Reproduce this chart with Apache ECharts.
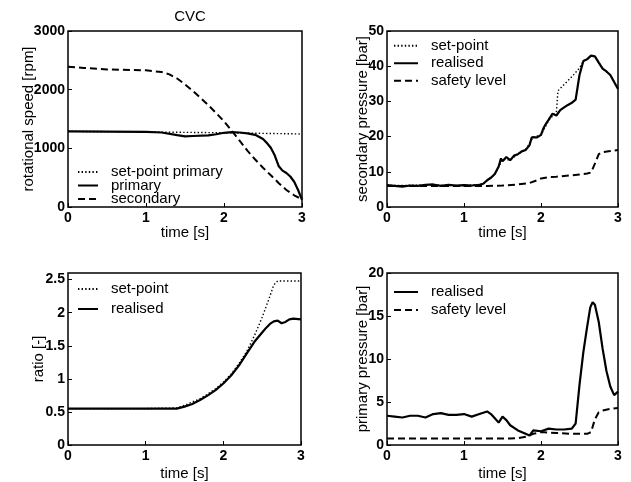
<!DOCTYPE html>
<html>
<head>
<meta charset="utf-8">
<script src="https://cdn.jsdelivr.net/npm/echarts@6/dist/echarts.min.js"></script>
<style>
html,body{margin:0;padding:0;background:#fff;}
#chart{width:631px;height:482px;}
</style>
</head>
<body>
<div id="chart"></div>
<script>
// ---- Data ----
// Panel 1: rotational speed [rpm]
var spdSetT = [0, 1, 2, 3];
var spdSetV = [1290, 1280, 1265, 1245];
var spdPrimT = [0, 0.5, 1.0, 1.2, 1.4, 1.5, 1.6, 1.8, 1.9, 2.0, 2.1, 2.2, 2.3, 2.4, 2.5, 2.55, 2.6, 2.65, 2.7, 2.75, 2.8, 2.85, 2.9, 2.95, 3.0];
var spdPrimV = [1290, 1285, 1280, 1270, 1225, 1205, 1210, 1220, 1240, 1265, 1275, 1270, 1255, 1230, 1160, 1090, 1010, 880, 700, 620, 580, 520, 430, 290, 120];
var spdSecT = [0, 0.2, 0.5, 0.8, 1.0, 1.2, 1.3, 1.4, 1.5, 1.6, 1.7, 1.8, 1.9, 2.0, 2.1, 2.2, 2.3, 2.4, 2.5, 2.6, 2.7, 2.8, 2.9, 3.0];
var spdSecV = [2390, 2370, 2345, 2335, 2330, 2300, 2260, 2190, 2090, 1980, 1860, 1735, 1600, 1460, 1300, 1130, 960, 810, 670, 540, 410, 290, 200, 130];

// Panel 2: secondary pressure [bar]
var secSetT = [0, 0.5, 1.0, 1.25, 1.3, 1.4, 1.5, 1.6, 1.7, 1.8, 1.9, 2.0, 2.1, 2.2, 2.22, 2.3, 2.4, 2.5, 2.55, 2.6, 2.65, 2.7, 2.8, 2.9, 3.0];
var secSetV = [6.1, 6.2, 6.1, 6.5, 7.5, 9.3, 13.5, 13.4, 15.0, 16.2, 19.9, 20.4, 24.6, 27.0, 33.0, 34.8, 37.0, 39.5, 41.5, 42.0, 43.0, 42.8, 39.3, 37.5, 33.5];
var secRealT = [0, 0.1, 0.2, 0.3, 0.4, 0.5, 0.6, 0.7, 0.8, 0.9, 1.0, 1.1, 1.2, 1.25, 1.3, 1.35, 1.4, 1.45, 1.48, 1.5, 1.55, 1.6, 1.65, 1.7, 1.75, 1.8, 1.85, 1.88, 1.9, 1.95, 2.0, 2.03, 2.06, 2.1, 2.15, 2.2, 2.25, 2.3, 2.35, 2.4, 2.45, 2.5, 2.55, 2.6, 2.65, 2.7, 2.75, 2.8, 2.85, 2.9, 2.95, 3.0];
var secRealV = [6.2, 6.0, 5.8, 6.1, 6.0, 6.3, 6.4, 6.0, 6.3, 6.1, 6.2, 6.1, 6.3, 6.6, 7.6, 8.3, 9.4, 11.5, 13.8, 13.0, 14.2, 13.3, 14.6, 15.0, 15.8, 16.2, 17.5, 19.8, 20.0, 19.8, 20.5, 22.3, 23.5, 24.8, 26.5, 26.0, 27.5, 28.3, 29.0, 29.6, 30.5, 37.5, 41.5, 42.0, 43.0, 42.8, 41.0, 39.3, 38.5, 37.5, 35.5, 33.5];
var secSafeT = [0, 0.5, 1.0, 1.3, 1.5, 1.7, 1.85, 1.95, 2.0, 2.1, 2.2, 2.3, 2.4, 2.5, 2.6, 2.65, 2.7, 2.75, 2.8, 2.9, 3.0];
var secSafeV = [6, 6, 6, 6, 6.1, 6.4, 6.8, 7.6, 8.1, 8.5, 8.6, 8.8, 9.0, 9.2, 9.5, 9.8, 12.3, 15.0, 15.6, 15.9, 16.2];

// Panel 3: ratio [-]
var ratSetT = [0, 0.5, 1.0, 1.4, 1.5, 1.6, 1.7, 1.8, 1.9, 2.0, 2.1, 2.2, 2.3, 2.4, 2.5, 2.6, 2.65, 2.7, 2.8, 2.9, 3.0];
var ratSetV = [0.55, 0.55, 0.55, 0.56, 0.6, 0.65, 0.70, 0.77, 0.85, 0.95, 1.07, 1.23, 1.41, 1.65, 1.93, 2.25, 2.42, 2.48, 2.48, 2.48, 2.48];
var ratRealT = [0, 0.5, 1.0, 1.4, 1.5, 1.6, 1.7, 1.8, 1.9, 2.0, 2.1, 2.2, 2.3, 2.4, 2.5, 2.55, 2.6, 2.65, 2.7, 2.75, 2.8, 2.85, 2.9, 3.0];
var ratRealV = [0.55, 0.55, 0.55, 0.55, 0.58, 0.62, 0.68, 0.75, 0.83, 0.93, 1.05, 1.2, 1.38, 1.56, 1.7, 1.77, 1.83, 1.87, 1.88, 1.84, 1.86, 1.9, 1.91, 1.9];

// Panel 4: primary pressure [bar]
var priRealT = [0, 0.1, 0.2, 0.3, 0.4, 0.5, 0.6, 0.7, 0.8, 0.9, 1.0, 1.1, 1.2, 1.3, 1.35, 1.4, 1.45, 1.5, 1.55, 1.6, 1.7, 1.8, 1.85, 1.9, 2.0, 2.1, 2.2, 2.3, 2.4, 2.45, 2.5, 2.55, 2.6, 2.64, 2.67, 2.7, 2.75, 2.8, 2.85, 2.9, 2.95, 3.0];
var priRealV = [3.4, 3.3, 3.2, 3.4, 3.4, 3.2, 3.6, 3.7, 3.5, 3.5, 3.6, 3.3, 3.6, 3.9, 3.6, 3.1, 2.6, 3.3, 2.9, 2.3, 1.7, 1.3, 1.1, 1.7, 1.6, 1.9, 1.8, 1.8, 1.9, 2.5, 7.0, 10.8, 13.8, 16.0, 16.6, 16.3, 14.3, 11.2, 8.6, 6.8, 5.8, 6.2];
var priSafeT = [0, 0.5, 1.0, 1.5, 1.6, 1.7, 1.8, 1.9, 2.0, 2.2, 2.4, 2.6, 2.65, 2.7, 2.75, 2.8, 2.9, 3.0];
var priSafeV = [0.75, 0.75, 0.75, 0.75, 0.75, 0.8, 0.95, 1.3, 1.5, 1.4, 1.3, 1.3, 1.5, 3.0, 3.8, 4.0, 4.2, 4.3];

var xTicks = [0, 1, 2, 3];
var titles = {main: 'CVC', x: 'time [s]'};
var yNames = ['rotational speed [rpm]', 'secondary pressure [bar]', 'ratio [-]', 'primary pressure [bar]'];

// ---- Chart ----
function zip(t, v) { return t.map(function (x, i) { return [x, v[i]]; }); }
var FONT = '"Liberation Sans", Arial, sans-serif';
var SOLID = {color: '#000', width: 2.2, type: 'solid'};
var DASH = {color: '#000', width: 2, type: [7, 4]};
var DOT = {color: '#000', width: 1.4, type: [1.4, 2.2]};

var grids = [
  {left: 68, top: 31, width: 234, height: 176},
  {left: 387, top: 31, width: 231, height: 176},
  {left: 68, top: 273, width: 233, height: 176},
  {left: 387, top: 273, width: 231, height: 176}
];
grids.forEach(function (g) { g.show = true; g.borderColor = '#000'; g.borderWidth = 1.5; g.backgroundColor = 'transparent'; });

function plain(v) { return String(v); }

function xAx(i, gap) {
  return {
    type: 'value', gridIndex: i, min: xTicks[0], max: xTicks[xTicks.length - 1], interval: 1,
    name: titles.x, nameLocation: 'middle', nameGap: gap, nameMoveOverlap: false,
    nameTextStyle: {fontFamily: FONT, fontSize: 15, color: '#000'},
    axisLine: {show: false}, splitLine: {show: false},
    axisTick: {show: true, inside: true, length: 4, lineStyle: {color: '#000'}},
    axisLabel: {fontFamily: FONT, fontSize: 14, fontWeight: 'bold', color: '#000', margin: 4, formatter: plain}
  };
}
function yAx(i, max, interval, gap) {
  return {
    type: 'value', gridIndex: i, min: 0, max: max, interval: interval,
    name: yNames[i], nameLocation: 'middle', nameGap: gap, nameMoveOverlap: false,
    nameTextStyle: {fontFamily: FONT, fontSize: 15, color: '#000'},
    axisLine: {show: false}, splitLine: {show: false},
    axisTick: {show: true, inside: true, length: 4, lineStyle: {color: '#000'}},
    axisLabel: {fontFamily: FONT, fontSize: 14, fontWeight: 'bold', color: '#000', margin: 3,
      showMaxLabel: (max % interval === 0), formatter: plain}
  };
}

function ser(name, i, t, v, ls) {
  return {name: name, type: 'line', xAxisIndex: i, yAxisIndex: i, data: zip(t, v),
    showSymbol: false, symbol: 'none', lineStyle: ls, itemStyle: {color: '#000'}, silent: true, animation: false, z: 3};
}

function leg(names, left, top, itemWidth, lineH, gap) {
  return {
    data: names, orient: 'vertical', left: left, top: top, itemWidth: itemWidth, itemHeight: 10,
    itemGap: gap, padding: 0, selectedMode: false,
    itemStyle: {color: 'rgba(0,0,0,0)', borderWidth: 0, opacity: 0},
    textStyle: {fontFamily: FONT, fontSize: 15, color: '#000', lineHeight: lineH, padding: [0, 0, 0, 8]}
  };
}

var option = {
  animation: false,
  backgroundColor: '#fff',
  title: {text: titles.main, left: 185, top: 4, textAlign: 'center',
    textStyle: {fontFamily: FONT, fontSize: 15, fontWeight: 'normal', color: '#000'}},
  grid: grids,
  xAxis: [xAx(0, 18), xAx(1, 18), xAx(2, 21), xAx(3, 21)],
  yAxis: [yAx(0, 3000, 1000, 32), yAx(1, 50, 10, 17), yAx(2, 2.6, 0.5, 22), yAx(3, 20, 5, 17)],
  legend: [
    leg(['set-point primary', 'primary', 'secondary'], 77, 164.5, 20, 15, -1.5),
    leg(['set-point', 'realised', 'safety level'], 393, 37, 24, 17.5, 0),
    leg(['set-point ', 'realised '], 77, 279, 20, 20, 0),
    leg(['realised  ', 'safety level '], 393, 283, 24, 18, 0)
  ],
  series: [
    ser('set-point primary', 0, spdSetT, spdSetV, DOT),
    ser('primary', 0, spdPrimT, spdPrimV, SOLID),
    ser('secondary', 0, spdSecT, spdSecV, DASH),
    ser('set-point', 1, secSetT, secSetV, DOT),
    ser('realised', 1, secRealT, secRealV, SOLID),
    ser('safety level', 1, secSafeT, secSafeV, DASH),
    ser('set-point ', 2, ratSetT, ratSetV, DOT),
    ser('realised ', 2, ratRealT, ratRealV, SOLID),
    ser('realised  ', 3, priRealT, priRealV, SOLID),
    ser('safety level ', 3, priSafeT, priSafeV, DASH)
  ]
};
var chart = echarts.init(document.getElementById('chart'), null, {renderer: 'canvas'});
chart.setOption(option);
</script>
</body>
</html>
